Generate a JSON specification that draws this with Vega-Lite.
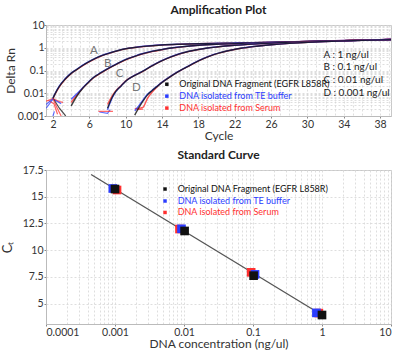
{
  "$schema": "https://vega.github.io/schema/vega-lite/v6.json",
  "background": "white",
  "padding": {"left": 0, "top": 3, "right": 6, "bottom": 2},
  "spacing": 6,
  "config": {
    "font": "Lato",
    "view": {"stroke": "#c8c8c8", "strokeWidth": 1},
    "title": {"fontSize": 12, "fontWeight": "bold", "color": "#222", "offset": 3},
    "axis": {
      "labelFontSize": 10.5, "labelColor": "#333", "titleFontSize": 12, "titleFontWeight": "normal", "titleColor": "#333",
      "labelPadding": 1, "titlePadding": 2,
      "domainColor": "#bbb", "tickColor": "#888", "tickSize": 2, "gridColor": "#d6d6d6", "gridDash": [2, 2], "gridWidth": 0.8
    }
  },
  "datasets": {
    "curves": [
      {"curve": "A", "cycle": 2.0, "black": 0.006, "blue": 0.0062, "red": 0.0058},
      {"curve": "A", "cycle": 2.2, "black": 0.0089, "blue": 0.0092, "red": 0.0086},
      {"curve": "A", "cycle": 2.7, "black": 0.02, "blue": 0.021, "red": 0.019},
      {"curve": "A", "cycle": 3.3, "black": 0.04, "blue": 0.042, "red": 0.039},
      {"curve": "A", "cycle": 4.0, "black": 0.075, "blue": 0.077, "red": 0.073},
      {"curve": "A", "cycle": 4.6, "black": 0.11, "blue": 0.113, "red": 0.108},
      {"curve": "A", "cycle": 5.5, "black": 0.19, "blue": 0.195, "red": 0.186},
      {"curve": "A", "cycle": 6.4, "black": 0.3, "blue": 0.305, "red": 0.295},
      {"curve": "A", "cycle": 7.3, "black": 0.44, "blue": 0.45, "red": 0.43},
      {"curve": "A", "cycle": 8.2, "black": 0.58, "blue": 0.59, "red": 0.57},
      {"curve": "A", "cycle": 9.1, "black": 0.74, "blue": 0.75, "red": 0.73},
      {"curve": "A", "cycle": 10, "black": 0.9, "blue": 0.91, "red": 0.89},
      {"curve": "A", "cycle": 11, "black": 1.03, "blue": 1.04, "red": 1.02},
      {"curve": "A", "cycle": 12, "black": 1.15, "blue": 1.16, "red": 1.14},
      {"curve": "A", "cycle": 14, "black": 1.33, "blue": 1.35, "red": 1.32},
      {"curve": "A", "cycle": 16, "black": 1.43, "blue": 1.45, "red": 1.42},
      {"curve": "A", "cycle": 18, "black": 1.5, "blue": 1.52, "red": 1.49},
      {"curve": "A", "cycle": 20, "black": 1.55, "blue": 1.57, "red": 1.54},
      {"curve": "A", "cycle": 22, "black": 1.6, "blue": 1.62, "red": 1.6},
      {"curve": "A", "cycle": 24, "black": 1.66, "blue": 1.68, "red": 1.66},
      {"curve": "A", "cycle": 26, "black": 1.72, "blue": 1.74, "red": 1.73},
      {"curve": "A", "cycle": 30, "black": 1.88, "blue": 1.9, "red": 1.9},
      {"curve": "A", "cycle": 34, "black": 2.05, "blue": 2.07, "red": 2.08},
      {"curve": "A", "cycle": 39.2, "black": 2.3, "blue": 2.32, "red": 2.34},
      {"curve": "B", "cycle": 4.0, "black": 0.0028, "blue": 0.0055, "red": 0.004},
      {"curve": "B", "cycle": 4.6, "black": 0.0072, "blue": 0.0092, "red": 0.0082},
      {"curve": "B", "cycle": 5.3, "black": 0.017, "blue": 0.018, "red": 0.0175},
      {"curve": "B", "cycle": 5.9, "black": 0.03, "blue": 0.031, "red": 0.03},
      {"curve": "B", "cycle": 6.4, "black": 0.047, "blue": 0.048, "red": 0.046},
      {"curve": "B", "cycle": 7.3, "black": 0.08, "blue": 0.082, "red": 0.079},
      {"curve": "B", "cycle": 8.2, "black": 0.13, "blue": 0.133, "red": 0.128},
      {"curve": "B", "cycle": 9.1, "black": 0.2, "blue": 0.205, "red": 0.197},
      {"curve": "B", "cycle": 10.0, "black": 0.3, "blue": 0.306, "red": 0.296},
      {"curve": "B", "cycle": 11.0, "black": 0.42, "blue": 0.43, "red": 0.415},
      {"curve": "B", "cycle": 11.9, "black": 0.55, "blue": 0.56, "red": 0.545},
      {"curve": "B", "cycle": 12.9, "black": 0.69, "blue": 0.7, "red": 0.68},
      {"curve": "B", "cycle": 13.9, "black": 0.82, "blue": 0.83, "red": 0.81},
      {"curve": "B", "cycle": 15, "black": 0.97, "blue": 0.98, "red": 0.96},
      {"curve": "B", "cycle": 16, "black": 1.08, "blue": 1.09, "red": 1.07},
      {"curve": "B", "cycle": 18, "black": 1.28, "blue": 1.29, "red": 1.27},
      {"curve": "B", "cycle": 20, "black": 1.42, "blue": 1.43, "red": 1.41},
      {"curve": "B", "cycle": 22, "black": 1.52, "blue": 1.53, "red": 1.52},
      {"curve": "B", "cycle": 24, "black": 1.6, "blue": 1.61, "red": 1.61},
      {"curve": "B", "cycle": 26, "black": 1.7, "blue": 1.71, "red": 1.71},
      {"curve": "B", "cycle": 30, "black": 1.87, "blue": 1.88, "red": 1.89},
      {"curve": "B", "cycle": 34, "black": 2.04, "blue": 2.05, "red": 2.06},
      {"curve": "B", "cycle": 39.2, "black": 2.29, "blue": 2.31, "red": 2.33},
      {"curve": "C", "cycle": 8.0, "black": 0.0022, "blue": 0.0019, "red": 0.0032},
      {"curve": "C", "cycle": 8.5, "black": 0.0065, "blue": 0.006, "red": 0.0075},
      {"curve": "C", "cycle": 8.9, "black": 0.012, "blue": 0.0115, "red": 0.0128},
      {"curve": "C", "cycle": 9.5, "black": 0.021, "blue": 0.021, "red": 0.022},
      {"curve": "C", "cycle": 10.0, "black": 0.034, "blue": 0.034, "red": 0.035},
      {"curve": "C", "cycle": 10.9, "black": 0.058, "blue": 0.059, "red": 0.058},
      {"curve": "C", "cycle": 11.9, "black": 0.093, "blue": 0.095, "red": 0.092},
      {"curve": "C", "cycle": 12.9, "black": 0.16, "blue": 0.163, "red": 0.158},
      {"curve": "C", "cycle": 13.9, "black": 0.26, "blue": 0.265, "red": 0.257},
      {"curve": "C", "cycle": 15, "black": 0.4, "blue": 0.408, "red": 0.395},
      {"curve": "C", "cycle": 16, "black": 0.55, "blue": 0.56, "red": 0.545},
      {"curve": "C", "cycle": 17, "black": 0.7, "blue": 0.71, "red": 0.695},
      {"curve": "C", "cycle": 18, "black": 0.84, "blue": 0.85, "red": 0.835},
      {"curve": "C", "cycle": 19, "black": 0.97, "blue": 0.98, "red": 0.965},
      {"curve": "C", "cycle": 20, "black": 1.08, "blue": 1.09, "red": 1.075},
      {"curve": "C", "cycle": 22, "black": 1.28, "blue": 1.29, "red": 1.28},
      {"curve": "C", "cycle": 24, "black": 1.45, "blue": 1.46, "red": 1.45},
      {"curve": "C", "cycle": 26, "black": 1.6, "blue": 1.61, "red": 1.61},
      {"curve": "C", "cycle": 28, "black": 1.72, "blue": 1.73, "red": 1.73},
      {"curve": "C", "cycle": 30, "black": 1.84, "blue": 1.85, "red": 1.86},
      {"curve": "C", "cycle": 34, "black": 2.03, "blue": 2.04, "red": 2.05},
      {"curve": "C", "cycle": 39.2, "black": 2.28, "blue": 2.3, "red": 2.32},
      {"curve": "D", "cycle": 11.0, "black": 0.0011, "blue": 0.0017, "red": 0.0021},
      {"curve": "D", "cycle": 11.5, "black": 0.0025, "blue": 0.003, "red": 0.0022},
      {"curve": "D", "cycle": 11.9, "black": 0.0045, "blue": 0.005, "red": 0.0024},
      {"curve": "D", "cycle": 12.4, "black": 0.0085, "blue": 0.009, "red": 0.006},
      {"curve": "D", "cycle": 12.9, "black": 0.013, "blue": 0.0135, "red": 0.011},
      {"curve": "D", "cycle": 13.4, "black": 0.019, "blue": 0.0195, "red": 0.018},
      {"curve": "D", "cycle": 13.9, "black": 0.028, "blue": 0.0285, "red": 0.028},
      {"curve": "D", "cycle": 14.8, "black": 0.05, "blue": 0.051, "red": 0.05},
      {"curve": "D", "cycle": 15.7, "black": 0.085, "blue": 0.087, "red": 0.084},
      {"curve": "D", "cycle": 16.7, "black": 0.14, "blue": 0.143, "red": 0.139},
      {"curve": "D", "cycle": 17.7, "black": 0.23, "blue": 0.235, "red": 0.228},
      {"curve": "D", "cycle": 18.7, "black": 0.35, "blue": 0.357, "red": 0.347},
      {"curve": "D", "cycle": 19.7, "black": 0.5, "blue": 0.51, "red": 0.495},
      {"curve": "D", "cycle": 20.7, "black": 0.65, "blue": 0.66, "red": 0.645},
      {"curve": "D", "cycle": 21.7, "black": 0.8, "blue": 0.81, "red": 0.795},
      {"curve": "D", "cycle": 22.7, "black": 0.95, "blue": 0.96, "red": 0.945},
      {"curve": "D", "cycle": 24, "black": 1.12, "blue": 1.13, "red": 1.115},
      {"curve": "D", "cycle": 26, "black": 1.35, "blue": 1.36, "red": 1.35},
      {"curve": "D", "cycle": 28, "black": 1.55, "blue": 1.56, "red": 1.56},
      {"curve": "D", "cycle": 30, "black": 1.72, "blue": 1.73, "red": 1.74},
      {"curve": "D", "cycle": 32, "black": 1.87, "blue": 1.88, "red": 1.89},
      {"curve": "D", "cycle": 34, "black": 2.0, "blue": 2.01, "red": 2.02},
      {"curve": "D", "cycle": 39.2, "black": 2.27, "blue": 2.29, "red": 2.31}
    ],
    "noise": [
      {"seg": "n1", "series": "red", "cycle": 1.25, "dRn": 0.0045},
      {"seg": "n1", "series": "red", "cycle": 2.0, "dRn": 0.0058},
      {"seg": "n1", "series": "red", "cycle": 2.7, "dRn": 0.0043},
      {"seg": "n1", "series": "red", "cycle": 3.1, "dRn": 0.004},
      {"seg": "n2", "series": "blue", "cycle": 1.25, "dRn": 0.0022},
      {"seg": "n2", "series": "blue", "cycle": 2.0, "dRn": 0.0055},
      {"seg": "n2", "series": "blue", "cycle": 2.9, "dRn": 0.0035},
      {"seg": "n3", "series": "black", "cycle": 2.0, "dRn": 0.006},
      {"seg": "n3", "series": "black", "cycle": 2.7, "dRn": 0.0022},
      {"seg": "n3", "series": "black", "cycle": 3.4, "dRn": 0.001},
      {"seg": "n4", "series": "red", "cycle": 1.5, "dRn": 0.0048},
      {"seg": "n4", "series": "red", "cycle": 2.1, "dRn": 0.0035},
      {"seg": "n4", "series": "red", "cycle": 2.5, "dRn": 0.0012},
      {"seg": "n5", "series": "red", "cycle": 2.0, "dRn": 0.0058},
      {"seg": "n5", "series": "red", "cycle": 2.4, "dRn": 0.0025},
      {"seg": "n5", "series": "red", "cycle": 2.9, "dRn": 0.001},
      {"seg": "n6", "series": "blue", "cycle": 1.25, "dRn": 0.0032},
      {"seg": "n6", "series": "blue", "cycle": 2.0, "dRn": 0.0058},
      {"seg": "n7", "series": "blue", "cycle": 2.0, "dRn": 0.001},
      {"seg": "n7", "series": "blue", "cycle": 2.15, "dRn": 0.0016},
      {"seg": "n8", "series": "blue", "cycle": 7.1, "dRn": 0.0015},
      {"seg": "n8", "series": "blue", "cycle": 8.0, "dRn": 0.0013},
      {"seg": "n8", "series": "blue", "cycle": 8.3, "dRn": 0.0019},
      {"seg": "n9", "series": "red", "cycle": 7.0, "dRn": 0.0016},
      {"seg": "n9", "series": "red", "cycle": 8.6, "dRn": 0.0016},
      {"seg": "n10", "series": "red", "cycle": 11.2, "dRn": 0.0019},
      {"seg": "n10", "series": "red", "cycle": 11.9, "dRn": 0.002}
    ],
    "curveLabels": [
      {"label": "A", "cycle": 6.49, "dRn": 0.69},
      {"label": "B", "cycle": 8.02, "dRn": 0.19},
      {"label": "C", "cycle": 9.33, "dRn": 0.068},
      {"label": "D", "cycle": 11.19, "dRn": 0.017}
    ],
    "concLabels": [
      {"text": "A : 1 ng/ul", "cycle": 31.76, "dRn": 0.494},
      {"text": "B : 0.1 ng/ul", "cycle": 31.76, "dRn": 0.142},
      {"text": "C : 0.01 ng/ul", "cycle": 31.76, "dRn": 0.0373},
      {"text": "D : 0.001 ng/ul", "cycle": 31.76, "dRn": 0.0104}
    ],
    "legendTop": [
      {"series": "black", "label": "Original DNA Fragment (EGFR L858R)", "cycle": 14.53, "tcycle": 15.9, "dRn": 0.0249},
      {"series": "blue", "label": "DNA isolated from TE buffer", "cycle": 14.53, "tcycle": 15.9, "dRn": 0.00746},
      {"series": "red", "label": "DNA isolated from Serum", "cycle": 14.53, "tcycle": 15.9, "dRn": 0.00223}
    ],
    "points": [
      {"series": "red", "conc": 0.00107, "ct": 15.63},
      {"series": "blue", "conc": 0.00093, "ct": 15.77},
      {"series": "black", "conc": 0.001, "ct": 15.72},
      {"series": "red", "conc": 0.0086, "ct": 11.98},
      {"series": "blue", "conc": 0.0092, "ct": 12.0},
      {"series": "black", "conc": 0.0102, "ct": 11.8},
      {"series": "red", "conc": 0.094, "ct": 7.93},
      {"series": "blue", "conc": 0.107, "ct": 7.74},
      {"series": "black", "conc": 0.102, "ct": 7.62},
      {"series": "red", "conc": 0.9, "ct": 4.12},
      {"series": "blue", "conc": 0.83, "ct": 4.14},
      {"series": "black", "conc": 1.0, "ct": 3.94}
    ],
    "fit": [
      {"conc": 0.00045, "ct": 17.08},
      {"conc": 1.0, "ct": 3.94}
    ],
    "legendBottom": [
      {"series": "black", "label": "Original DNA Fragment (EGFR L858R)", "conc": 0.00531, "tconc": 0.00809, "ct": 15.72},
      {"series": "blue", "label": "DNA isolated from TE buffer", "conc": 0.00531, "tconc": 0.00809, "ct": 14.6},
      {"series": "red", "label": "DNA isolated from Serum", "conc": 0.00531, "tconc": 0.00809, "ct": 13.53}
    ]
  },
  "vconcat": [
    {
      "title": "Amplification Plot",
      "width": 345,
      "height": 91,
      "encoding": {
        "x": {"field": "cycle", "type": "quantitative",
          "scale": {"domain": [1.23, 39.2], "nice": false, "zero": false},
          "axis": {"title": "Cycle", "titlePadding": 1,
            "values": [2,3,4,5,6,7,8,9,10,11,12,13,14,15,16,17,18,19,20,21,22,23,24,25,26,27,28,29,30,31,32,33,34,35,36,37,38,39],
            "labelExpr": "(datum.value - 2) % 4 == 0 ? datum.label : ''",
            "tickOpacity": {"condition": {"test": "(datum.value - 2) % 4 == 0", "value": 1}, "value": 0}}},
        "y": {"field": "dRn", "type": "quantitative",
          "scale": {"type": "log", "domain": [0.001, 10], "nice": false},
          "axis": {"title": "Delta Rn", "titlePadding": 0, "labelPadding": 0,
            "values": [0.001,0.002,0.003,0.004,0.005,0.006,0.007,0.008,0.009,0.01,0.02,0.03,0.04,0.05,0.06,0.07,0.08,0.09,0.1,0.2,0.3,0.4,0.5,0.6,0.7,0.8,0.9,1,2,3,4,5,6,7,8,9,10],
            "labelExpr": "indexof([0.001,0.01,0.1,1,10], datum.value) >= 0 ? format(datum.value, '~g') : ''",
            "tickOpacity": {"condition": {"test": "indexof([0.001,0.01,0.1,1,10], datum.value) >= 0", "value": 1}, "value": 0}}}
      },
      "layer": [
        {
          "data": {"name": "noise"},
          "mark": {"type": "line", "clip": true, "strokeWidth": 1.2, "opacity": 0.75},
          "encoding": {
            "color": {"field": "series", "type": "nominal", "scale": {"domain": ["black", "blue", "red"], "range": ["#111111", "#2b3dff", "#ff3030"]}, "legend": null},
            "detail": {"field": "seg"}
          }
        },
        {
          "data": {"name": "curves"},
          "transform": [{"fold": ["red", "blue", "black"], "as": ["series", "dRn"]}],
          "mark": {"type": "line", "clip": true, "strokeWidth": 1.4, "interpolate": "monotone", "opacity": 0.8},
          "encoding": {
            "color": {"field": "series", "type": "nominal", "legend": null},
            "detail": {"field": "curve"}
          }
        },
        {
          "data": {"name": "curveLabels"},
          "mark": {"type": "text", "fontSize": 11.5, "color": "#777"},
          "encoding": {"text": {"field": "label"}}
        },
        {
          "data": {"name": "concLabels"},
          "mark": {"type": "text", "fontSize": 10, "color": "#222", "align": "left"},
          "encoding": {"text": {"field": "text"}}
        },
        {
          "data": {"name": "legendTop"},
          "mark": {"type": "square", "size": 12, "filled": true, "opacity": 1},
          "encoding": {"color": {"field": "series", "type": "nominal", "legend": null}}
        },
        {
          "data": {"name": "legendTop"},
          "mark": {"type": "text", "fontSize": 9, "align": "left"},
          "encoding": {
            "x": {"field": "tcycle", "type": "quantitative"},
            "text": {"field": "label"},
            "color": {"field": "series", "type": "nominal", "legend": null}
          }
        }
      ]
    },
    {
      "title": "Standard Curve",
      "width": 345,
      "height": 154,
      "encoding": {
        "x": {"field": "conc", "type": "quantitative",
          "scale": {"type": "log", "domain": [0.0001, 10], "nice": false},
          "axis": {"title": "DNA concentration (ng/ul)", "titlePadding": 1,
            "values": [0.0001,0.0002,0.0003,0.0004,0.0005,0.0006,0.0007,0.0008,0.0009,0.001,0.002,0.003,0.004,0.005,0.006,0.007,0.008,0.009,0.01,0.02,0.03,0.04,0.05,0.06,0.07,0.08,0.09,0.1,0.2,0.3,0.4,0.5,0.6,0.7,0.8,0.9,1,2,3,4,5,6,7,8,9,10],
            "labelExpr": "indexof([0.0001,0.001,0.01,0.1,1,10], datum.value) >= 0 ? format(datum.value, '~g') : ''",
            "tickOpacity": {"condition": {"test": "indexof([0.0001,0.001,0.01,0.1,1,10], datum.value) >= 0", "value": 1}, "value": 0}}},
        "y": {"field": "ct", "type": "quantitative",
          "scale": {"domain": [3.1, 17.5], "nice": false, "zero": false},
          "axis": {"title": "Cₜ", "titlePadding": 8, "titleFontSize": 13, "values": [5, 7.5, 10, 12.5, 15, 17.5], "labelExpr": "'' + datum.value", "labelOverlap": false}}
      },
      "layer": [
        {
          "data": {"name": "fit"},
          "mark": {"type": "line", "color": "#555", "strokeWidth": 1.3},
          "encoding": {}
        },
        {
          "data": {"name": "points"},
          "mark": {"type": "square", "size": 75, "filled": true, "opacity": 1},
          "encoding": {"color": {"field": "series", "type": "nominal", "scale": {"domain": ["black", "blue", "red"], "range": ["#000000", "#1f35ff", "#ff2a2a"]}, "legend": null}}
        },
        {
          "data": {"name": "legendBottom"},
          "mark": {"type": "square", "size": 12, "filled": true, "opacity": 1},
          "encoding": {"color": {"field": "series", "type": "nominal", "legend": null}}
        },
        {
          "data": {"name": "legendBottom"},
          "mark": {"type": "text", "fontSize": 9, "align": "left"},
          "encoding": {
            "x": {"field": "tconc", "type": "quantitative"},
            "text": {"field": "label"},
            "color": {"field": "series", "type": "nominal", "legend": null}
          }
        }
      ]
    }
  ]
}
